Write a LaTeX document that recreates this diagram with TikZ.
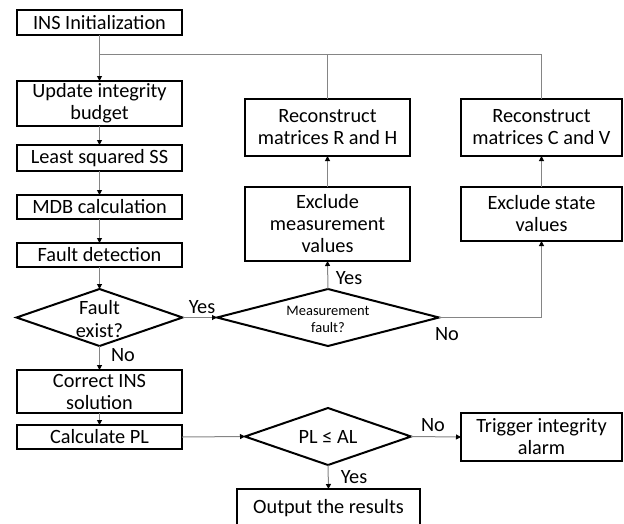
\documentclass[tikz,border=0pt]{standalone}
\usepackage{fontspec}
\setmainfont{Carlito}
\usetikzlibrary{arrows.meta,shapes.geometric}

\begin{document}
\begin{tikzpicture}[x=1pt,y=-1pt,
  box/.style={draw=black, line width=2pt, inner sep=0pt, outer sep=0pt, align=center,
              font=\fontsize{20.3}{22}\selectfont},
  dia/.style={draw=black, line width=2pt, diamond, inner sep=0pt, outer sep=0pt},
  diatext/.style={align=center, inner sep=0pt, font=\fontsize{20.3}{23}\selectfont},
  lbl/.style={inner sep=0pt, font=\fontsize{20.3}{22}\selectfont},
  conn/.style={draw=black!48, line width=1pt, -{Triangle[length=5pt,width=5pt,color=black]}},
  link/.style={draw=black!48, line width=1pt}]

\useasboundingbox (0,0) rectangle (624,523);

% left column
\node[box, minimum width=165pt, minimum height=25pt] (init)   at (99.5,22.5) {INS Initialization};
\node[box, minimum width=165pt, minimum height=45pt] (budget) at (99.5,103.5) {Update integrity\\budget};
\node[box, minimum width=165pt, minimum height=26pt] (lsq)    at (99.5,158) {Least squared SS};
\node[box, minimum width=165pt, minimum height=24pt] (mdb)    at (99.5,207) {MDB calculation};
\node[box, minimum width=165pt, minimum height=24pt] (fd)     at (99.5,255) {Fault detection};
\node[dia, minimum width=166pt, minimum height=57pt] (fe)     at (99.5,317.5) {};
\node[diatext] (fetext) at (99.5,319) {Fault\\exist?};
\node[box, minimum width=165pt, minimum height=43pt] (corr)   at (99.5,391.5) {Correct INS\\solution};
\node[box, minimum width=165pt, minimum height=24pt] (calc)   at (99.5,437) {Calculate PL};

% measurement branch
\node[dia, minimum width=222pt, minimum height=57pt] (mf) at (328,317.5) {};
\node[align=center, inner sep=0pt, font=\fontsize{14.5}{17}\selectfont] (mftext) at (328,319) {Measurement\\fault?};
\node[box, minimum width=165pt, minimum height=74pt] (em) at (327.5,224) {Exclude\\measurement\\values};
\node[box, minimum width=165pt, minimum height=57pt] (rh) at (327.5,127.5) {Reconstruct\\matrices R and H};

% state branch
\node[box, minimum width=161pt, minimum height=54pt] (es) at (541.5,214) {Exclude state\\values};
\node[box, minimum width=161pt, minimum height=57pt] (cv) at (541.5,127.5) {Reconstruct\\matrices C and V};

% protection level check
\node[dia, minimum width=166pt, minimum height=57pt] (pl) at (328,436.5) {};
\node[diatext] (pltext) at (328,437) {PL ≤ AL};
\node[box, minimum width=161pt, minimum height=48pt] (trig) at (541.5,437) {Trigger integrity\\alarm};
\node[box, minimum width=183pt, minimum height=38pt] (out)  at (328.5,508) {Output the results};

% feedback junction
\coordinate (j) at (99.5,54);

% connectors
\draw[conn] (init) -- (budget);
\draw[link] (rh.north) |- (j);
\draw[link] (cv.north) |- (rh.north |- j);
\draw[conn] (budget) -- (lsq);
\draw[conn] (lsq) -- (mdb);
\draw[conn] (mdb) -- (fd);
\draw[conn] (fd) -- (fe.north);
\draw[conn] (fe.south) -- (corr);
\draw[conn] (corr) -- (calc);
\draw[conn] (fe.east) -- (mf.west);
\draw[conn] (mf.north) -- (em.south);
\draw[conn] (em) -- (rh);
\draw[conn] (mf.east) -| (es.south);
\draw[conn] (es) -- (cv);
\draw[conn] (calc.east) -- (pl.west);
\draw[conn] (pl.east) -- (trig.west);
\draw[conn] (pl.south) -- (out.north);

% branch labels
\node[lbl] (yes1) at (202,307) {Yes};
\node[lbl] (no1)  at (123,355) {No};
\node[lbl] (yes2) at (349,278) {Yes};
\node[lbl] (no2)  at (447,334) {No};
\node[lbl] (no3)  at (433,425) {No};
\node[lbl] (yes3) at (354,477) {Yes};
\end{tikzpicture}
\end{document}
